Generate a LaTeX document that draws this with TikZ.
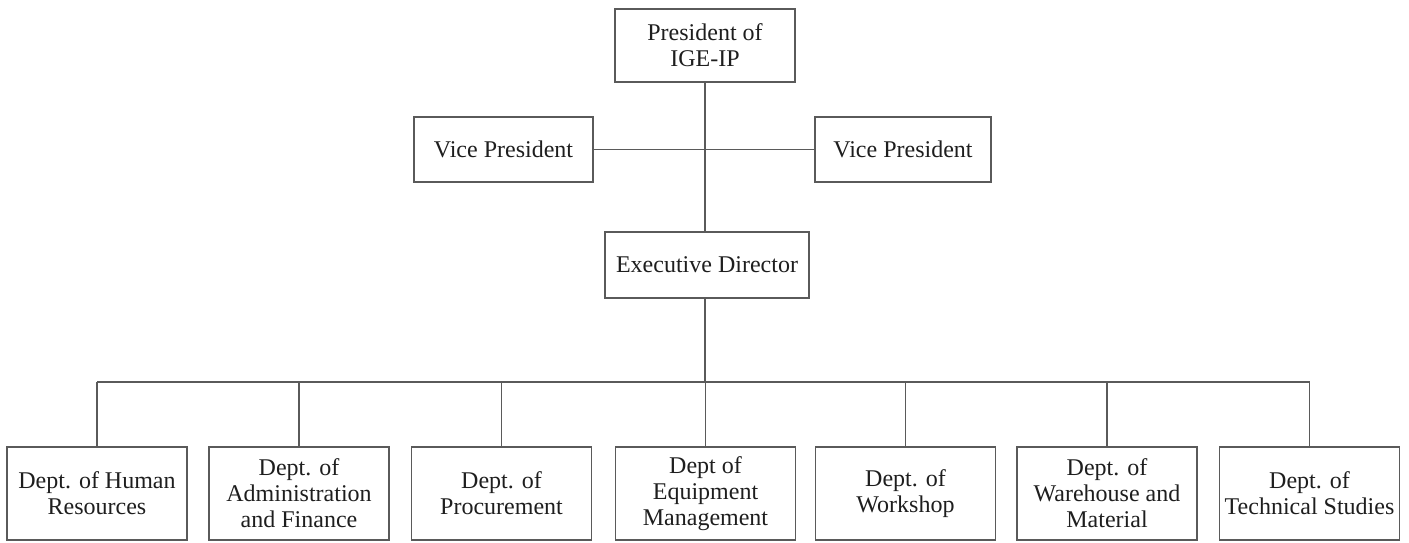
\documentclass[tikz,border=0pt]{standalone}
\usepackage{fontspec}
\setmainfont{Liberation Serif}
\definecolor{linegray}{HTML}{5A5A5A}
\definecolor{inkgray}{HTML}{1E1E1E}
\begin{document}
\begin{tikzpicture}[x=0.5pt,y=-0.5pt,
  orgbox/.style={draw=linegray, line width=0.8pt, inner sep=0pt, align=center,
    text=inkgray, font=\rmfamily\fontsize{12}{13}\selectfont},
  topbox/.style={orgbox, minimum width=#1*0.5pt, minimum height=33pt},
  deptbox/.style={orgbox, minimum width=90pt, minimum height=46.5pt},
  link/.style={draw=linegray, line width=0.8pt}]
\useasboundingbox (0,0) rectangle (1409,542);

% upper levels
\node[topbox=180, minimum height=36.5pt] (pres) at (705,45.5) {President of\\IGE-IP};
\node[topbox=179, minimum height=32.5pt] (vpl) at (503.5,149.5) {Vice President};
\node[topbox=176, minimum height=32.5pt] (vpr) at (903,149.5) {Vice President};
\node[topbox=204] (ed) at (707,265) {Executive Director};

% departments
\node[deptbox] (d1) at (97,493.5) {Dept. of Human\\Resources};
\node[deptbox] (d2) at (299,493.5) {Dept. of\\Administration\\and Finance};
\node[deptbox] (d3) at (501.5,493.5) {Dept. of\\Procurement};
\node[deptbox] (d4) at (705.5,493.5) {Dept of\\Equipment\\Management};
\node[deptbox] (d5) at (905.5,493.5) {Dept. of\\Workshop};
\node[deptbox] (d6) at (1107,493.5) {Dept. of\\Warehouse and\\Material};
\node[deptbox] (d7) at (1309.5,493.5) {Dept. of\\Technical Studies};

\coordinate (bus) at (705,382);

% connectors
\draw[link] (pres.south) -- (pres.south |- ed.north);
\draw[link] (vpl.east) -- (vpl.east -| vpr.west);
\draw[link] (pres.south |- ed.south) -- (pres.south |- bus);
\draw[link] (d1.north |- bus) -- (d7.north |- bus);
\foreach \d in {d1,d2,d3,d4,d5,d6,d7}
  \draw[link] (\d.north) -- (\d.north |- bus);
\end{tikzpicture}
\end{document}
